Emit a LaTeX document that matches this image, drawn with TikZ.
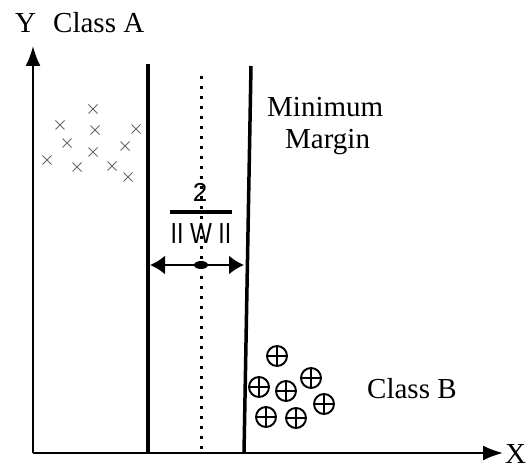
\documentclass[tikz,border=0pt]{standalone}
\usepackage{fontspec}
\setmainfont{Liberation Serif}
\newfontfamily\arialfont{Liberation Sans}
\usetikzlibrary{arrows.meta}
\begin{document}
\begin{tikzpicture}[x=1pt,y=-1pt,
  lbl/.style={font=\fontsize{29}{32}\selectfont, inner sep=0pt, anchor=base west},
  sanslbl/.style={font=\arialfont\fontsize{29}{31}\selectfont, inner sep=0pt, anchor=base},
  crossmark/.style={draw=gray!80!black, line width=0.9pt},
  plusmark/.style={draw=black, line width=1.9pt},
  axis/.style={line width=2pt, -{Latex[length=20pt,width=15pt]}},
  boundary/.style={line width=3.5pt},
  dimarrow/.style={line width=2.2pt, {Latex[length=15pt,width=19pt]}-{Latex[length=15pt,width=19pt]}}]
\useasboundingbox (0,0) rectangle (527,465);
% axes
\coordinate (O) at (33,453);
\coordinate (Ytip) at (33,46);
\coordinate (Xtip) at (503,453);
\draw[axis] (O) -- (Ytip);
\draw[axis] (O) -- (Xtip);
\node[lbl] (ylab) at (15,33) {Y};
\node[lbl] (classA) at (53,33) {Class A};
\node[lbl] (xlab) at (505,463) {X};
% boundaries
\coordinate (L1) at (148,64);
\coordinate (L2) at (148,453);
\coordinate (R1) at (251,66);
\coordinate (R2) at (244,453);
\draw[boundary] (L1) -- (L2);
\draw[boundary] (R1) -- (R2);
\coordinate (D1) at (201.5,76);
\coordinate (D2) at (201.5,453);
\draw[line width=2.6pt, dash pattern=on 3pt off 7pt] (D1) -- (D2);
% margin label
\node[lbl] (mm1) at (267,117) {Minimum};
\node[lbl] (mm2) at (285,149) {Margin};
% fraction
\node[sanslbl, font=\arialfont\fontsize{26}{28}\selectfont] (two) at (200,201) {2};
\coordinate (B1) at (170,212);
\coordinate (B2) at (232,212);
\draw[line width=4pt] (B1) -- (B2);
\node[sanslbl] (w) at (201,243) {\scalebox{0.8}[1]{II W II}};
% dimension arrow
\coordinate (A1) at (150,265);
\coordinate (A2) at (244,265);
\draw[dimarrow] (A1) -- (A2);
\fill (201,265) ellipse (7pt and 4pt);
% class A crosses
\foreach \x/\y in {93/109, 60/125, 95/130, 136/129, 67/143, 93/152, 125/146, 47/160, 77/167, 112/166, 128/177}{
  \draw[crossmark] (\x-4.5,\y-4.5) -- (\x+4.5,\y+4.5) (\x-4.5,\y+4.5) -- (\x+4.5,\y-4.5);
}
% class B circles
\foreach \x/\y in {277/356, 311/378, 259/387, 286/391, 324/404, 266/417, 296/418}{
  \draw[plusmark] (\x,\y) circle (10pt);
  \draw[plusmark] (\x-10,\y) -- (\x+10,\y) (\x,\y-10) -- (\x,\y+10);
}
\node[lbl] (classB) at (367,398) {Class B};
\end{tikzpicture}
\end{document}
